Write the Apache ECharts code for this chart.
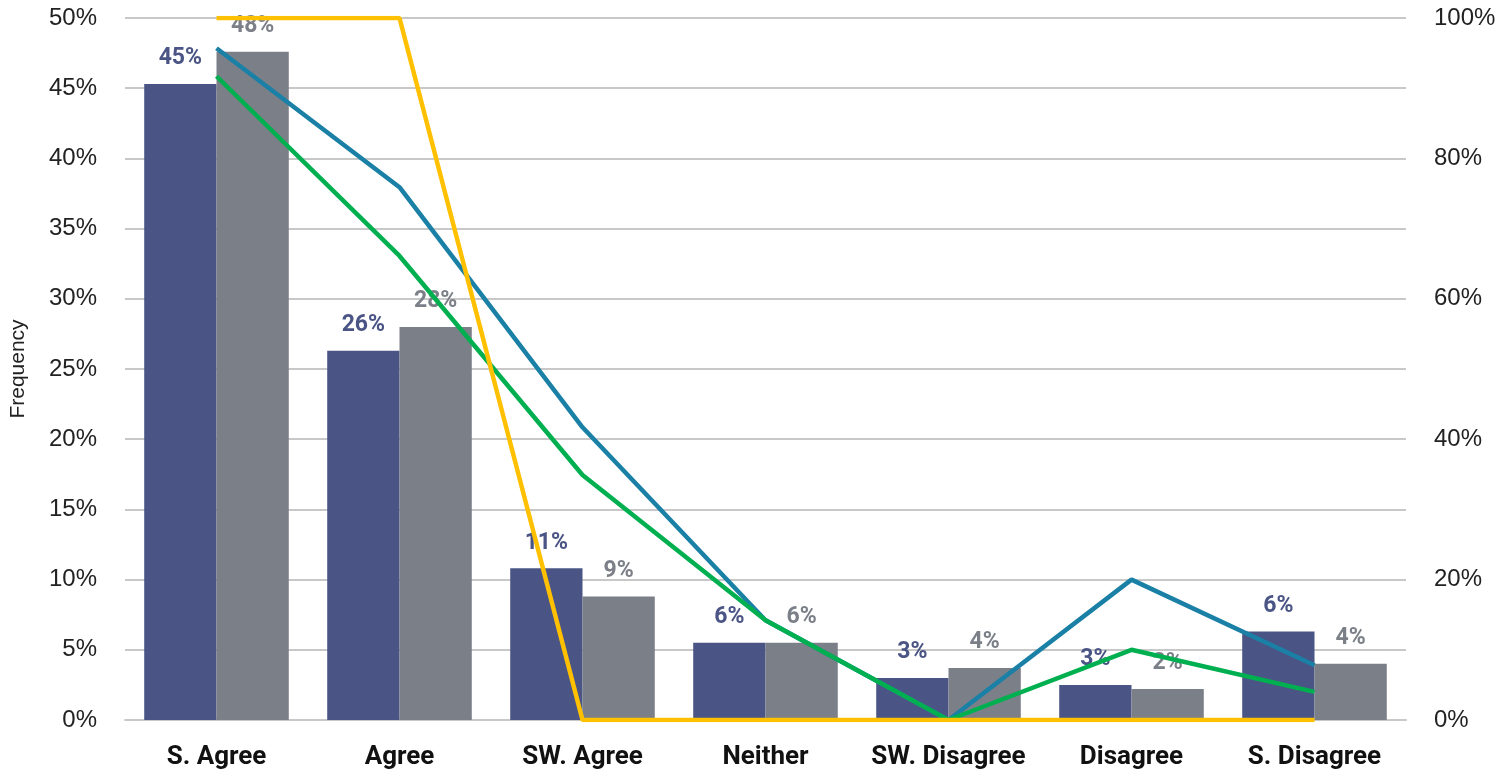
<!DOCTYPE html>
<html>
<head>
<meta charset="utf-8">
<script src="https://cdn.jsdelivr.net/npm/echarts@6/dist/echarts.min.js"></script>
<style>
  html, body { margin: 0; padding: 0; background: #fff; }
  #chart { width: 1501px; height: 774px; }
</style>
</head>
<body>
<div id="chart"></div>
<script>
// categories and values (percent)
var categories = ['S. Agree', 'Agree', 'SW. Agree', 'Neither', 'SW. Disagree', 'Disagree', 'S. Disagree'];
var barNavy = [45.3, 26.3, 10.8, 5.5, 3.0, 2.5, 6.3];
var barGrey = [47.6, 28.0, 8.8, 5.5, 3.7, 2.2, 4.0];
var lineBlue = [95.7, 75.9, 41.7, 14.2, 0, 20.0, 7.8];
var lineGreen = [91.7, 66.1, 34.9, 14.2, 0, 10.0, 4.0];
var lineYellow = [100, 100, 0, 0, 0, 0, 0];
var leftTicks = [0, 5, 10, 15, 20, 25, 30, 35, 40, 45, 50];
var rightTicks = [0, 20, 40, 60, 80, 100];

var chart = echarts.init(document.getElementById('chart'));

function barLabel(color) {
    return {
        show: true,
        position: 'top',
        distance: 14,
        color: color,
        fontFamily: 'Roboto',
        fontWeight: 'bold',
        fontSize: 23,
        formatter: function (p) { return Math.round(p.value) + '%'; }
    };
}

function lineSeries(name, data, color) {
    return {
        name: name,
        type: 'line',
        yAxisIndex: 1,
        data: data,
        symbol: 'none',
        lineStyle: { color: color, width: 4.5 },
        z: 3
    };
}

chart.setOption({
    animation: false,
    grid: { left: 125, right: 95, top: 18, bottom: 54 },
    xAxis: {
        type: 'category',
        data: categories,
        axisTick: { show: false },
        axisLine: { show: true, lineStyle: { color: '#c8c8c8', width: 2 } },
        axisLabel: {
            interval: 0,
            color: '#111',
            fontFamily: 'Roboto',
            fontWeight: 'bold',
            fontSize: 26,
            margin: 24
        }
    },
    yAxis: [
        {
            type: 'value',
            min: leftTicks[0],
            max: leftTicks[leftTicks.length - 1],
            interval: 5,
            name: 'Frequency',
            nameLocation: 'middle',
            nameGap: 96,
            nameTextStyle: { color: '#222', fontFamily: 'Liberation Sans', fontSize: 21 },
            axisLine: { show: false },
            axisTick: { show: false },
            axisLabel: { color: '#222', fontFamily: 'Liberation Sans', fontSize: 24, margin: 28, formatter: '{value}%' },
            splitLine: { lineStyle: { color: '#c8c8c8', width: 2 } }
        },
        {
            type: 'value',
            min: rightTicks[0],
            max: rightTicks[rightTicks.length - 1],
            interval: 20,
            position: 'right',
            axisLine: { show: false },
            axisTick: { show: false },
            axisLabel: { color: '#222', fontFamily: 'Liberation Sans', fontSize: 24, margin: 28, formatter: '{value}%' },
            splitLine: { show: false }
        }
    ],
    series: [
        {
            name: 'Group A',
            type: 'bar',
            data: barNavy,
            barGap: '0%',
            barCategoryGap: '21%',
            itemStyle: { color: '#4a5485' },
            label: barLabel('#4a5485'),
            z: 2
        },
        {
            name: 'Group B',
            type: 'bar',
            data: barGrey,
            itemStyle: { color: '#7b7f88' },
            label: barLabel('#7b7f88'),
            z: 2
        },
        lineSeries('Cumulative A', lineBlue, '#1a80a6'),
        lineSeries('Cumulative B', lineGreen, '#00b050'),
        lineSeries('Cumulative C', lineYellow, '#ffc000')
    ]
});
</script>
</body>
</html>
